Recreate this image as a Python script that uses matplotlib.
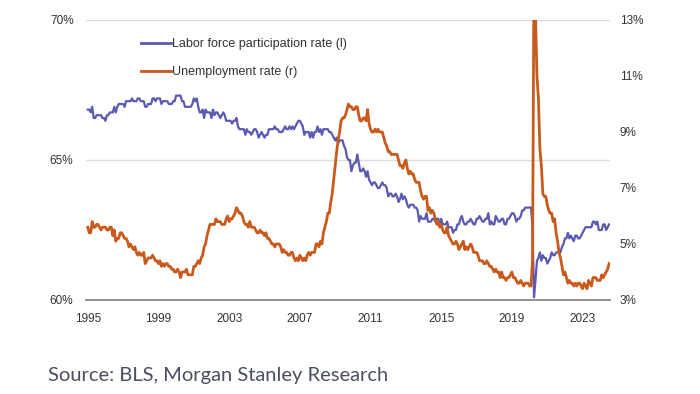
import numpy as np
import matplotlib
matplotlib.use("Agg")
import matplotlib.pyplot as plt

# monthly values, Jan 1995 - Jul 2024
lfpr_by_year = {
    1995: [66.8, 66.8, 66.7, 66.9, 66.5, 66.5, 66.6, 66.6, 66.6, 66.6, 66.5, 66.5],
    1996: [66.4, 66.6, 66.6, 66.7, 66.7, 66.7, 66.9, 66.7, 66.9, 67.0, 67.0, 67.0],
    1997: [67.0, 66.9, 67.1, 67.1, 67.1, 67.1, 67.2, 67.1, 67.1, 67.1, 67.2, 67.2],
    1998: [67.1, 67.1, 67.1, 66.9, 66.9, 67.0, 67.0, 67.0, 67.2, 67.2, 67.1, 67.2],
    1999: [67.2, 67.2, 67.0, 67.1, 67.1, 67.1, 67.1, 67.0, 67.0, 67.0, 67.1, 67.1],
    2000: [67.3, 67.3, 67.3, 67.3, 67.1, 67.1, 66.9, 66.9, 66.9, 66.9, 66.9, 67.0],
    2001: [67.2, 67.1, 67.2, 66.9, 66.7, 66.7, 66.8, 66.5, 66.8, 66.7, 66.7, 66.7],
    2002: [66.5, 66.8, 66.6, 66.7, 66.7, 66.6, 66.5, 66.6, 66.7, 66.6, 66.4, 66.4],
    2003: [66.4, 66.4, 66.3, 66.4, 66.4, 66.5, 66.2, 66.1, 66.1, 66.1, 66.1, 65.9],
    2004: [66.1, 66.0, 66.0, 65.9, 66.0, 66.1, 66.1, 66.0, 65.8, 65.9, 66.0, 65.9],
    2005: [65.8, 65.9, 65.9, 66.1, 66.1, 66.1, 66.1, 66.2, 66.1, 66.1, 66.0, 66.0],
    2006: [66.0, 66.1, 66.2, 66.1, 66.1, 66.2, 66.1, 66.2, 66.1, 66.2, 66.3, 66.4],
    2007: [66.4, 66.3, 66.2, 65.9, 66.0, 66.0, 66.0, 65.8, 66.0, 65.8, 66.0, 66.0],
    2008: [66.2, 66.0, 66.1, 65.9, 66.1, 66.1, 66.1, 66.1, 66.0, 66.0, 65.9, 65.8],
    2009: [65.7, 65.8, 65.6, 65.7, 65.7, 65.7, 65.5, 65.4, 65.1, 65.0, 65.0, 64.6],
    2010: [64.8, 64.9, 64.9, 65.2, 64.9, 64.6, 64.6, 64.7, 64.6, 64.4, 64.6, 64.3],
    2011: [64.2, 64.1, 64.2, 64.2, 64.1, 64.0, 64.0, 64.1, 64.2, 64.1, 64.1, 64.0],
    2012: [63.7, 63.8, 63.8, 63.7, 63.7, 63.8, 63.7, 63.5, 63.6, 63.8, 63.6, 63.7],
    2013: [63.6, 63.4, 63.3, 63.4, 63.4, 63.4, 63.3, 63.3, 63.2, 62.8, 63.0, 62.9],
    2014: [62.9, 62.9, 63.1, 62.8, 62.8, 62.8, 62.9, 62.9, 62.8, 62.9, 62.9, 62.7],
    2015: [62.9, 62.7, 62.7, 62.7, 62.8, 62.6, 62.6, 62.6, 62.4, 62.5, 62.5, 62.7],
    2016: [62.7, 62.9, 63.0, 62.8, 62.7, 62.7, 62.8, 62.8, 62.9, 62.8, 62.7, 62.7],
    2017: [62.9, 62.9, 63.0, 62.9, 62.8, 62.8, 62.9, 62.9, 63.1, 62.7, 62.8, 62.7],
    2018: [62.7, 63.0, 62.9, 62.8, 62.8, 62.9, 62.9, 62.7, 62.7, 62.9, 62.9, 63.0],
    2019: [63.1, 63.1, 63.0, 62.8, 62.9, 62.9, 63.0, 63.2, 63.2, 63.3, 63.3, 63.3],
    2020: [63.3, 63.3, 62.6, 60.1, 60.7, 61.4, 61.5, 61.7, 61.4, 61.6, 61.5, 61.5],
    2021: [61.3, 61.4, 61.5, 61.7, 61.6, 61.6, 61.7, 61.7, 61.7, 61.7, 61.9, 62.0],
    2022: [62.2, 62.2, 62.4, 62.2, 62.3, 62.2, 62.1, 62.3, 62.3, 62.2, 62.2, 62.3],
    2023: [62.4, 62.5, 62.6, 62.6, 62.6, 62.6, 62.6, 62.8, 62.8, 62.7, 62.8, 62.5],
    2024: [62.5, 62.5, 62.7, 62.7, 62.5, 62.6, 62.7],
}

unrate_by_year = {
    1995: [5.6, 5.4, 5.4, 5.8, 5.6, 5.6, 5.7, 5.7, 5.6, 5.5, 5.6, 5.6],
    1996: [5.6, 5.5, 5.5, 5.6, 5.6, 5.3, 5.5, 5.1, 5.2, 5.2, 5.4, 5.4],
    1997: [5.3, 5.2, 5.2, 5.1, 4.9, 5.0, 4.9, 4.8, 4.9, 4.7, 4.6, 4.7],
    1998: [4.6, 4.6, 4.7, 4.3, 4.4, 4.5, 4.5, 4.5, 4.6, 4.5, 4.4, 4.4],
    1999: [4.3, 4.4, 4.2, 4.3, 4.2, 4.3, 4.3, 4.2, 4.2, 4.1, 4.1, 4.0],
    2000: [4.0, 4.1, 4.0, 3.8, 4.0, 4.0, 4.0, 4.1, 3.9, 3.9, 3.9, 3.9],
    2001: [4.2, 4.2, 4.3, 4.4, 4.3, 4.5, 4.6, 4.9, 5.0, 5.3, 5.5, 5.7],
    2002: [5.7, 5.7, 5.7, 5.9, 5.8, 5.8, 5.8, 5.7, 5.7, 5.7, 5.9, 6.0],
    2003: [5.8, 5.9, 5.9, 6.0, 6.1, 6.3, 6.2, 6.1, 6.1, 6.0, 5.8, 5.7],
    2004: [5.7, 5.6, 5.8, 5.6, 5.6, 5.6, 5.5, 5.4, 5.4, 5.5, 5.4, 5.4],
    2005: [5.3, 5.4, 5.2, 5.2, 5.1, 5.0, 5.0, 4.9, 5.0, 5.0, 5.0, 4.9],
    2006: [4.7, 4.8, 4.7, 4.7, 4.6, 4.6, 4.7, 4.7, 4.5, 4.4, 4.5, 4.4],
    2007: [4.6, 4.5, 4.4, 4.5, 4.4, 4.6, 4.7, 4.6, 4.7, 4.7, 4.7, 5.0],
    2008: [5.0, 4.9, 5.1, 5.0, 5.4, 5.6, 5.8, 6.1, 6.1, 6.5, 6.8, 7.3],
    2009: [7.8, 8.3, 8.7, 9.0, 9.4, 9.5, 9.5, 9.6, 9.8, 10.0, 9.9, 9.9],
    2010: [9.8, 9.8, 9.9, 9.9, 9.6, 9.4, 9.4, 9.5, 9.5, 9.4, 9.8, 9.3],
    2011: [9.1, 9.0, 9.0, 9.1, 9.0, 9.1, 9.0, 9.0, 9.0, 8.8, 8.6, 8.5],
    2012: [8.3, 8.3, 8.2, 8.2, 8.2, 8.2, 8.2, 8.0, 7.8, 7.8, 7.7, 7.9],
    2013: [8.0, 7.7, 7.5, 7.6, 7.5, 7.5, 7.3, 7.2, 7.2, 7.2, 6.9, 6.7],
    2014: [6.6, 6.7, 6.7, 6.2, 6.3, 6.1, 6.2, 6.1, 5.9, 5.7, 5.8, 5.6],
    2015: [5.7, 5.5, 5.4, 5.4, 5.6, 5.3, 5.2, 5.1, 5.0, 5.0, 5.1, 5.0],
    2016: [4.8, 4.9, 5.0, 5.1, 4.8, 4.9, 4.8, 4.9, 5.0, 4.9, 4.7, 4.7],
    2017: [4.7, 4.6, 4.4, 4.4, 4.4, 4.3, 4.3, 4.4, 4.3, 4.2, 4.2, 4.1],
    2018: [4.0, 4.1, 4.0, 4.0, 3.8, 4.0, 3.8, 3.8, 3.7, 3.8, 3.8, 3.9],
    2019: [4.0, 3.8, 3.8, 3.7, 3.6, 3.6, 3.7, 3.6, 3.5, 3.6, 3.6, 3.6],
    2020: [3.5, 3.5, 4.4, 14.8, 13.2, 11.0, 10.2, 8.4, 7.8, 6.8, 6.7, 6.7],
    2021: [6.4, 6.2, 6.1, 6.1, 5.8, 5.9, 5.4, 5.1, 4.7, 4.5, 4.2, 3.9],
    2022: [4.0, 3.8, 3.6, 3.7, 3.6, 3.6, 3.5, 3.6, 3.5, 3.6, 3.6, 3.5],
    2023: [3.4, 3.6, 3.5, 3.4, 3.7, 3.6, 3.5, 3.8, 3.8, 3.8, 3.7, 3.7],
    2024: [3.7, 3.9, 3.8, 3.9, 4.0, 4.1, 4.3],
}

year_ticks = [1995, 1999, 2003, 2007, 2011, 2015, 2019, 2023]
left_ticks = [60, 65, 70]
right_ticks = [3, 5, 7, 9, 11, 13]

lfpr = [v for y in sorted(lfpr_by_year) for v in lfpr_by_year[y]]
unrate = [v for y in sorted(unrate_by_year) for v in unrate_by_year[y]]
t = np.array([y + m / 12 for y in sorted(lfpr_by_year)
              for m in range(len(lfpr_by_year[y]))])

BLUE = '#5b5ab3'
ORANGE = '#c95a1c'
TICK_FONT = ['Liberation Sans Narrow', 'Liberation Sans', 'DejaVu Sans']

fig = plt.figure(figsize=(7.0, 3.94), dpi=100)
ax = fig.add_axes([86 / 700, 1 - 300 / 394, 524 / 700, 280 / 394])
ax2 = ax.twinx()

ax.plot(t, lfpr, color=BLUE, lw=1.6, label='Labor force participation rate (l)')
ax2.plot(t, unrate, color=ORANGE, lw=2.0, label='Unemployment rate (r)')

ax.set_xlim(1994.9, 2024.55)
ax.set_ylim(60, 70)
ax2.set_ylim(3, 13)

ax.set_xticks(year_ticks)
ax.set_xticklabels([str(y) for y in year_ticks])
ax.set_yticks(left_ticks)
ax.set_yticklabels([f'{v}%' for v in left_ticks])
ax2.set_yticks(right_ticks)
ax2.set_yticklabels([f'{v}%' for v in right_ticks])

for a in (ax, ax2):
    for s in a.spines.values():
        s.set_visible(False)
    a.tick_params(length=0, labelsize=8.5, labelcolor='#333333')
    for lab in a.get_xticklabels() + a.get_yticklabels():
        lab.set_family(TICK_FONT)
ax.tick_params(axis='y', pad=9)
ax2.tick_params(axis='y', pad=7)
ax.tick_params(axis='x', pad=9)

ax.spines['bottom'].set_visible(True)
ax.spines['bottom'].set_color('#8a8a8a')
ax.spines['bottom'].set_linewidth(1.3)
ax.yaxis.grid(True, color='#dedede', lw=1.0)
ax.set_axisbelow(True)

handles = ax.get_lines() + ax2.get_lines()
fig.legend(handles, [h.get_label() for h in handles],
           loc='upper left', bbox_to_anchor=(130 / 700, 1 - 27 / 394),
           frameon=False, handlelength=2.4, handletextpad=0.1,
           labelspacing=1.25, prop={'family': TICK_FONT, 'size': 9},
           labelcolor='#333333')
for h in fig.legends[0].legend_handles:
    h.set_linewidth(2.0)

fig.text(48 / 700, 1 - 375 / 394, 'Source: BLS, Morgan Stanley Research',
         fontsize=14.5, family=['Lato', 'Open Sans', 'DejaVu Sans'],
         color='#4a5060', va='center', ha='left')

fig.savefig('out.png', dpi=100)
